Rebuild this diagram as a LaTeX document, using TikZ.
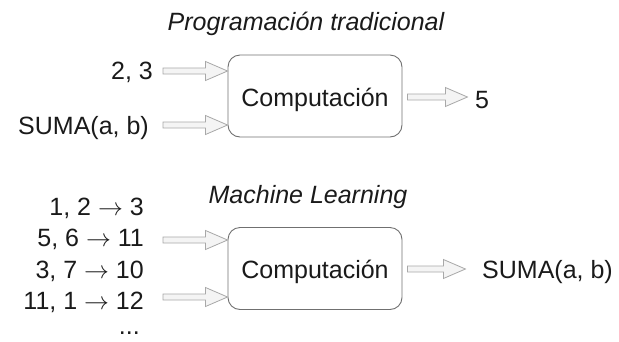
\documentclass[tikz,border=0pt]{standalone}
\usepackage{fontspec}
\setmainfont{Liberation Sans}
\usetikzlibrary{calc}

\definecolor{boxline}{HTML}{707070}
\definecolor{arrowline}{HTML}{A8A8A8}
\definecolor{arrowfill}{HTML}{F4F4F4}
\definecolor{ink}{HTML}{1A1A1A}

\newcommand{\yields}{\ensuremath{\rightarrow}}

\tikzset{
  txt/.style={inner sep=0pt, text=ink, font=\fontsize{25}{30}\selectfont},
  ttl/.style={txt, font=\fontsize{25}{30}\selectfont\itshape},
  procbox/.style={draw=boxline, line width=0.9pt, rounded corners=12pt,
    minimum width=174pt, minimum height=82pt, inner sep=0pt,
    text height=20pt, text depth=0pt, text=ink, font=\fontsize{25}{30}\selectfont},
  % hollow block arrow: shaft from the start point, head ending at the target
  blockarrow/.style={draw=arrowline, fill=arrowfill, line width=0.8pt, line join=miter,
    to path={let \p1=(\tikztostart), \p2=(\tikztotarget) in
      (\x1,\y1+3pt) -- (\x2-22pt,\y1+3pt) -- (\x2-22pt,\y1+9.5pt) -- (\x2,\y1)
      -- (\x2-22pt,\y1-9.5pt) -- (\x2-22pt,\y1-3pt) -- (\x1,\y1-3pt) -- cycle}}
}

\begin{document}
\begin{tikzpicture}[x=1pt, y=-1pt]
\useasboundingbox (0,0) rectangle (619,341);

% ---- traditional programming ----
\node[ttl, anchor=base] (title1) at (306,30) {Programación tradicional};
\node[procbox] (box1) at (315,96) {Computación};
\node[txt, anchor=base east] (in1) at (153,79) {2, 3};
\node[txt, anchor=base east] (in2) at (149,134) {SUMA(a, b)};
\node[txt, anchor=base west] (out1) at (475,108) {5};
\coordinate (inx) at (163,0);

\draw[blockarrow] (inx |- 0,71) to (box1.west |- 0,71);
\draw[blockarrow] (inx |- 0,125) to (box1.west |- 0,125);
\draw[blockarrow] ([xshift=5pt]box1.east |- 0,97) to ([xshift=65pt]box1.east |- 0,97);

% ---- machine learning ----
\node[ttl, anchor=base] (title2) at (308,203) {Machine Learning};
\node[procbox] (box2) at (315,268.5) {Computación};
\node[txt, anchor=base east] (ex1) at (144,215) {1, 2 \yields{} 3};
\node[txt, anchor=base east] (ex2) at (144,246.5) {5, 6 \yields{} 11};
\node[txt, anchor=base east] (ex3) at (144,278) {3, 7 \yields{} 10};
\node[txt, anchor=base east] (ex4) at (144,309.5) {11, 1 \yields{} 12};
\node[txt, anchor=base east] (ex5) at (140,334) {...};
\node[txt, anchor=base west] (out2) at (482,278.5) {SUMA(a, b)};

\draw[blockarrow] (inx |- 0,240) to (box2.west |- 0,240);
\draw[blockarrow] (inx |- 0,297) to (box2.west |- 0,297);
\draw[blockarrow] ([xshift=5pt]box2.east |- 0,269) to ([xshift=63pt]box2.east |- 0,269);
\end{tikzpicture}
\end{document}
